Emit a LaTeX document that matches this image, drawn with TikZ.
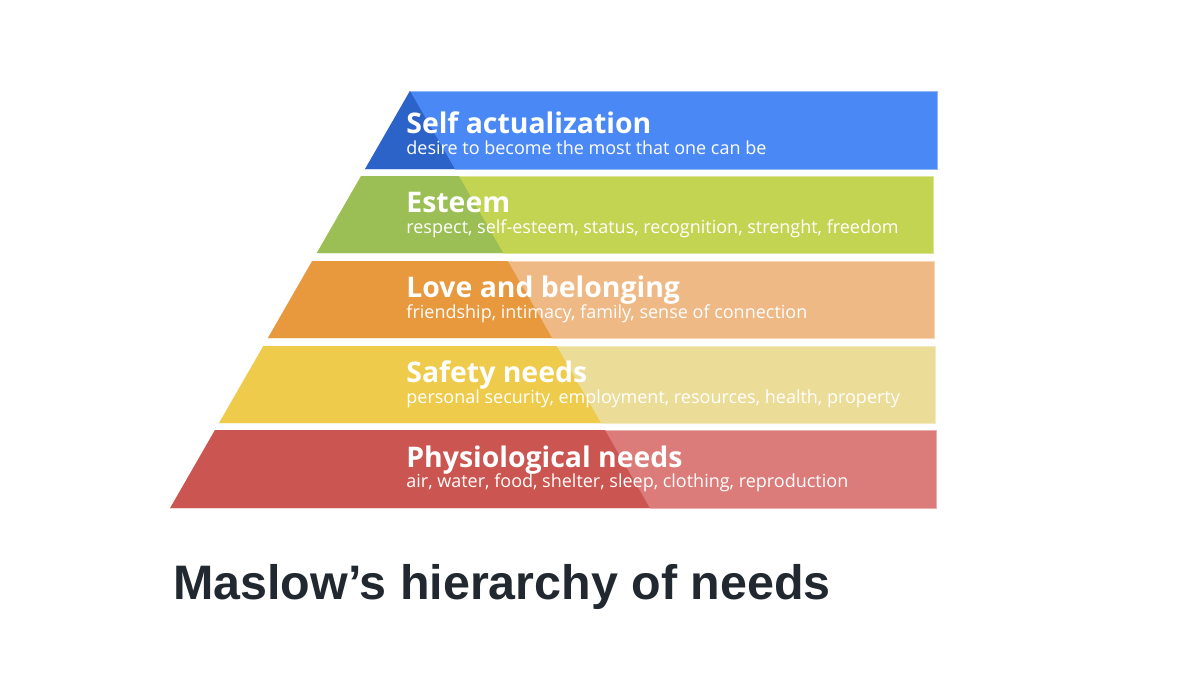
\documentclass[tikz,border=0pt]{standalone}
\usepackage{fontspec}
\setmainfont{Open Sans}
\newfontfamily\titlefont{Liberation Sans}
\definecolor{bluedk}{HTML}{2B63C8}
\definecolor{bluelt}{HTML}{4A89F5}
\definecolor{greendk}{HTML}{9BBF55}
\definecolor{greenlt}{HTML}{C3D452}
\definecolor{orangedk}{HTML}{E8983D}
\definecolor{orangelt}{HTML}{EEB985}
\definecolor{yellowdk}{HTML}{EECB4A}
\definecolor{yellowlt}{HTML}{EBDC98}
\definecolor{reddk}{HTML}{CB5550}
\definecolor{redlt}{HTML}{DB7C7A}
\definecolor{titlecol}{HTML}{22282F}
\tikzset{
  head/.style={anchor=base west, inner sep=0pt, text=white, font=\fontsize{14.2}{16}\selectfont\bfseries},
  sub/.style={anchor=base west, inner sep=0pt, text=white, font=\fontsize{9.0}{10}\selectfont},
  maintitle/.style={anchor=base west, inner sep=0pt, text=titlecol, font=\fontsize{24.2}{26}\selectfont\titlefont\bfseries},
}
\begin{document}
\begin{tikzpicture}[x=0.5pt,y=-0.5pt]
\useasboundingbox (0,0) rectangle (1200,675);
\fill[white] (0,0) rectangle (1200,675);
\foreach \yt/\yb/\xr/\dk/\lt in {91/169/937/bluedk/bluelt, 176/253/933/greendk/greenlt, 261/338/934/orangedk/orangelt, 346/423/935/yellowdk/yellowlt, 430/508/936/reddk/redlt}{
  \fill[\lt] ({410-0.575*(\yt-91)},\yt) -- (\xr,\yt) -- (\xr,\yb) -- ({410-0.575*(\yb-91)},\yb) -- cycle;
  \draw[\lt!60!white, line width=0.4pt] ({410+0.575*(\yt-91)},\yt) -- (\xr,\yt) -- (\xr,\yb) -- ({410+0.575*(\yb-91)},\yb);
  \fill[\dk] ({410-0.575*(\yt-91)},\yt) -- ({410+0.575*(\yt-91)},\yt) -- ({410+0.575*(\yb-91)},\yb) -- ({410-0.575*(\yb-91)},\yb) -- cycle;
}
\node[head] (h1) at (406,133) {Self actualization};
\node[sub] (s1) at (406,154) {desire to become the most that one can be};
\node[head] (h2) at (406,212) {Esteem};
\node[sub] (s2) at (406,233) {respect, self-esteem, status, recognition, strenght, freedom};
\node[head] (h3) at (406,297) {Love and belonging};
\node[sub] (s3) at (406,318) {friendship, intimacy, family, sense of connection};
\node[head] (h4) at (406,382) {Safety needs};
\node[sub] (s4) at (406,403) {personal security, employment, resources, health, property};
\node[head] (h5) at (406,467) {Physiological needs};
\node[sub] (s5) at (406,487) {air, water, food, shelter, sleep, clothing, reproduction};
\node[maintitle] (t) at (173,599) {Maslow’s hierarchy of needs};
\end{tikzpicture}
\end{document}
